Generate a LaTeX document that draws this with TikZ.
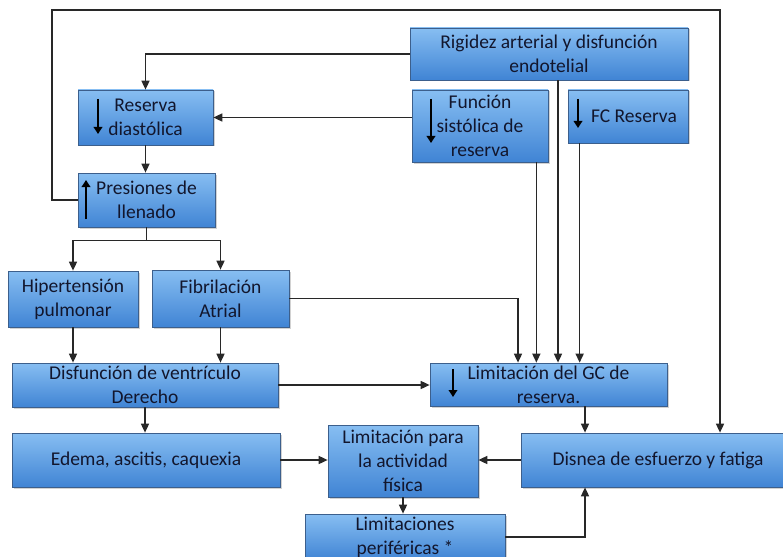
\documentclass[tikz,border=0pt]{standalone}
\usepackage{fontspec}
\setmainfont{Carlito}
\usetikzlibrary{arrows.meta,shadows,calc}
\definecolor{boxtop}{RGB}{135,190,242}
\definecolor{boxbot}{RGB}{64,132,212}
\definecolor{boxline}{RGB}{60,95,140}
\definecolor{lin}{RGB}{40,40,40}
\definecolor{txt}{RGB}{18,22,45}
\tikzset{
 box/.style={draw=boxline, line width=0.7pt, top color=boxtop, bottom color=boxbot,
   drop shadow={shadow xshift=1.5pt, shadow yshift=-1.5pt, opacity=0.35},
   align=center, text=txt, font=\fontsize{19.5}{24}\selectfont, inner sep=0pt},
 conn/.style={draw=lin, line width=1.6pt},
 arr/.style={conn, -{Triangle[length=9pt,width=8pt]}},
 inarr/.style={draw=black, line width=2.6pt, -{Triangle[length=7pt,width=8.5pt]}}
}
\begin{document}
\begin{tikzpicture}[x=1pt,y=-1pt]
\useasboundingbox (0,0) rectangle (783,556);
\clip (0,0) rectangle (783,556);
\fill[white] (0,0) rectangle (783,556);
% boxes
\node[box, minimum width=278, minimum height=52] (rig) at (549,54) {Rigidez arterial y disfunción\\endotelial};
\node[box, minimum width=136, minimum height=72] (fsis) at (480,126) {Función\\sistólica de\\reserva};
\node[box, minimum width=120, minimum height=53] (fc) at (628,116.5) {\hspace*{12pt}FC Reserva};
\node[box, minimum width=135, minimum height=55] (res) at (145.5,117.5) {Reserva\\diastólica};
\node[box, minimum width=137, minimum height=54] (pre) at (146.5,200) {Presiones de\\llenado};
\node[box, minimum width=130, minimum height=56] (hip) at (73,299) {Hipertensión\\pulmonar};
\node[box, minimum width=137, minimum height=57] (fib) at (220.5,298.5) {Fibrilación\\Atrial};
\node[box, minimum width=266, minimum height=44] (dvd) at (145,385) {Disfunción de ventrículo\\Derecho};
\node[box, minimum width=268, minimum height=54] (ede) at (146,460) {Edema, ascitis, caquexia};
\node[box, minimum width=150, minimum height=72] (act) at (403,461) {Limitación para\\la actividad\\física};
\node[box, minimum width=200, minimum height=46] (per) at (405,537) {Limitaciones\\periféricas *};
\node[box, minimum width=237, minimum height=43] (gc) at (548.5,384.5) {Limitación del GC de\\reserva.};
\node[box, minimum width=274, minimum height=54] (dis) at (658,460) {Disnea de esfuerzo y fatiga};
% arrows inside boxes
\draw[inarr] (98,99) -- (98,134);
\draw[inarr] (86,219) -- (86,180);
\draw[inarr] (431,99) -- (431,143);
\draw[inarr] (578,99) -- (578,128);
\draw[inarr] (453,369) -- (453,397);
% connectors
\coordinate (tl) at (52,10);
\draw[arr] (pre.west) -| (tl) -| ($(dis.north)+(62,0)$);
\draw[arr] (rig.west) -| (res.north);
\draw[arr] (fsis.west |- res.east) -- (res.east);
\draw[arr] (res.south) -- (res.south |- pre.north);
\draw[arr] (pre.south) -- ++(0,13) -| (hip.north);
\draw[arr] (pre.south) -- ++(0,13) -| (fib.north);
\draw[arr] (hip.south) -- (hip.south |- dvd.north);
\draw[arr] (fib.south) -- (fib.south |- dvd.north);
\draw[arr] (fib.east) -| ($(gc.north)+(-30.5,0)$);
\coordinate (fsb) at ($(fsis.south east)+(-12,0)$);
\draw[arr] (fsb) -- (fsb |- gc.north);
\coordinate (rgb) at ($(rig.south)+(9,0)$);
\draw[arr] (rgb) -- (rgb |- gc.north);
\coordinate (fcb) at ($(fc.south west)+(12,0)$);
\draw[arr] (fcb) -- (fcb |- gc.north);
\draw[arr] (dvd.east) -- (gc.west |- dvd.east);
\draw[arr] (dvd.south) -- (dvd.south |- ede.north);
\draw[arr] (ede.east) -- (act.west |- ede.east);
\coordinate (gcb) at ($(gc.south)+(36.5,0)$);
\draw[arr] (gcb) -- (gcb |- dis.north);
\draw[arr] (dis.west) -- (act.east |- dis.west);
\draw[arr] (act.south) -- (act.south |- per.north);
\draw[arr] (per.east) -| ($(dis.south)+(-73,0)$);
\end{tikzpicture}
\end{document}
